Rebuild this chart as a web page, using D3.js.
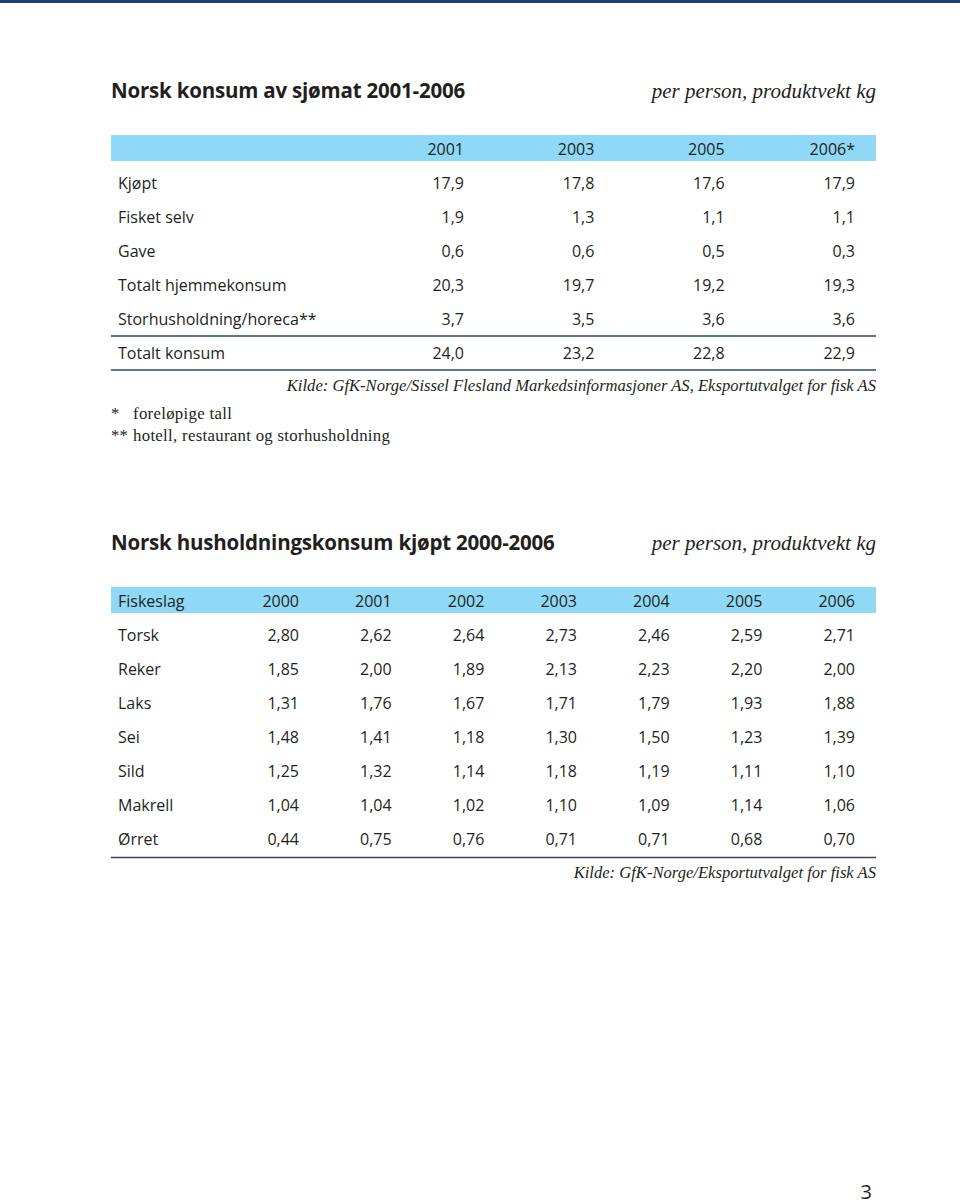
<!DOCTYPE html>
<html><head><meta charset="utf-8">
<script src="https://cdn.jsdelivr.net/npm/d3@7"></script>
<style>
html,body{margin:0;padding:0;background:#fff;}
svg{display:block;}
.sans{font-family:"Open Sans","Noto Sans",sans-serif;fill:#231f20;}
.serif{font-family:"Liberation Serif","DejaVu Serif",serif;fill:#231f20;}
</style></head>
<body>
<script>
// ---- Data: table 1 ----
const t1Title = "Norsk konsum av sjømat 2001-2006";
const t1Unit = "per person, produktvekt kg";
const t1Years = ["2001", "2003", "2005", "2006*"];
const t1Rows = ["Kjøpt", "Fisket selv", "Gave", "Totalt hjemmekonsum", "Storhusholdning/horeca**", "Totalt konsum"];
const t1Kjopt = [17.9, 17.8, 17.6, 17.9];
const t1Fisket = [1.9, 1.3, 1.1, 1.1];
const t1Gave = [0.6, 0.6, 0.5, 0.3];
const t1Hjemme = [20.3, 19.7, 19.2, 19.3];
const t1Stor = [3.7, 3.5, 3.6, 3.6];
const t1Total = [24.0, 23.2, 22.8, 22.9];
const t1Source = "Kilde: GfK-Norge/Sissel Flesland Markedsinformasjoner AS, Eksportutvalget for fisk AS";
const t1NoteMarks = ["*", "**"];
const t1Notes = ["foreløpige tall", "hotell, restaurant og storhusholdning"];

// ---- Data: table 2 ----
const t2Title = "Norsk husholdningskonsum kjøpt 2000-2006";
const t2Unit = "per person, produktvekt kg";
const t2Head = "Fiskeslag";
const t2Years = ["2000", "2001", "2002", "2003", "2004", "2005", "2006"];
const t2Rows = ["Torsk", "Reker", "Laks", "Sei", "Sild", "Makrell", "Ørret"];
const t2Torsk = [2.80, 2.62, 2.64, 2.73, 2.46, 2.59, 2.71];
const t2Reker = [1.85, 2.00, 1.89, 2.13, 2.23, 2.20, 2.00];
const t2Laks = [1.31, 1.76, 1.67, 1.71, 1.79, 1.93, 1.88];
const t2Sei = [1.48, 1.41, 1.18, 1.30, 1.50, 1.23, 1.39];
const t2Sild = [1.25, 1.32, 1.14, 1.18, 1.19, 1.11, 1.10];
const t2Makrell = [1.04, 1.04, 1.02, 1.10, 1.09, 1.14, 1.06];
const t2Orret = [0.44, 0.75, 0.76, 0.71, 0.71, 0.68, 0.70];
const t2Source = "Kilde: GfK-Norge/Eksportutvalget for fisk AS";
const pageNumber = "3";

// ---- Build ----
const W = 960, H = 1204;
const L = 111, R = 876;
const svg = d3.select("body").append("svg").attr("width", W).attr("height", H);
const blue = "#8fd8f6", dark = "#2c4866";

svg.append("rect").attr("x", 0).attr("y", 0).attr("width", W).attr("height", 3).attr("fill", "#1c3f7c");

const fmt1 = v => d3.format(".1f")(v).replace(".", ",");
const fmt2 = v => d3.format(".2f")(v).replace(".", ",");

function title(y, text, unit) {
  svg.append("text").attr("class", "sans").attr("x", L).attr("y", y)
    .attr("font-size", 20.5).attr("font-weight", 700).attr("letter-spacing", -0.2).text(text);
  svg.append("text").attr("class", "serif").attr("x", R).attr("y", y).attr("text-anchor", "end")
    .attr("font-size", 21).attr("font-style", "italic").attr("letter-spacing", 0).text(unit);
}

// Table 1
title(98, t1Title, t1Unit);
const t1Values = [t1Kjopt, t1Fisket, t1Gave, t1Hjemme, t1Stor, t1Total];
const x1 = d3.scalePoint().domain(t1Years).range([464, 855]);
const y1 = d3.scaleBand().domain(["head", ...t1Rows]).range([132, 370]);
svg.append("rect").attr("x", L).attr("y", y1("head") + 3).attr("width", R - L).attr("height", 26).attr("fill", blue);
const g1 = svg.append("g").attr("class", "sans").attr("font-size", 16);
g1.selectAll("text.h").data(t1Years).join("text").attr("class", "h")
  .attr("x", d => x1(d)).attr("y", y1("head") + y1.bandwidth() / 2 + 6).attr("text-anchor", "end").text(d => d);
t1Rows.forEach((r, i) => {
  const cy = y1(r) + y1.bandwidth() / 2 + 6;
  g1.append("text").attr("x", 118).attr("y", cy).text(r);
  g1.selectAll(null).data(t1Values[i]).join("text")
    .attr("x", (d, j) => x1(t1Years[j])).attr("y", cy).attr("text-anchor", "end").text(d => fmt1(d));
});
[y1("Totalt konsum"), y1("Totalt konsum") + y1.bandwidth()].forEach(yy => {
  svg.append("line").attr("x1", L).attr("x2", R).attr("y1", yy).attr("y2", yy)
    .attr("stroke", dark).attr("stroke-width", 1.6);
});
svg.append("text").attr("class", "serif").attr("x", R).attr("y", 391).attr("text-anchor", "end")
  .attr("font-size", 16.6).attr("font-style", "italic").text(t1Source);
const notes = svg.append("g").attr("class", "serif").attr("font-size", 16.8);
notes.selectAll("text.m").data(t1NoteMarks).join("text").attr("class", "m")
  .attr("x", L).attr("y", (d, i) => 419 + i * 22).text(d => d);
notes.selectAll("text.n").data(t1Notes).join("text").attr("class", "n")
  .attr("x", 133).attr("y", (d, i) => 419 + i * 22).attr("letter-spacing", 0.3).text(d => d);

// Table 2
title(550, t2Title, t2Unit);
const t2Values = [t2Torsk, t2Reker, t2Laks, t2Sei, t2Sild, t2Makrell, t2Orret];
const x2 = d3.scalePoint().domain(t2Years).range([299, 855]);
const y2 = d3.scaleBand().domain(["head", ...t2Rows]).range([584, 856]);
svg.append("rect").attr("x", L).attr("y", y2("head") + 3).attr("width", R - L).attr("height", 26).attr("fill", blue);
const g2 = svg.append("g").attr("class", "sans").attr("font-size", 16);
const hy2 = y2("head") + y2.bandwidth() / 2 + 6;
g2.append("text").attr("x", 118).attr("y", hy2).text(t2Head);
g2.selectAll("text.h").data(t2Years).join("text").attr("class", "h")
  .attr("x", d => x2(d)).attr("y", hy2).attr("text-anchor", "end").text(d => d);
t2Rows.forEach((r, i) => {
  const cy = y2(r) + y2.bandwidth() / 2 + 6;
  g2.append("text").attr("x", 118).attr("y", cy).text(r);
  g2.selectAll(null).data(t2Values[i]).join("text")
    .attr("x", (d, j) => x2(t2Years[j])).attr("y", cy).attr("text-anchor", "end").text(d => fmt2(d));
});
svg.append("line").attr("x1", L).attr("x2", R).attr("y1", 857.5).attr("y2", 857.5)
  .attr("stroke", dark).attr("stroke-width", 1.6);
svg.append("text").attr("class", "serif").attr("x", R).attr("y", 878).attr("text-anchor", "end")
  .attr("font-size", 16.6).attr("font-style", "italic").text(t2Source);

svg.append("text").attr("class", "sans").attr("x", 872).attr("y", 1199).attr("text-anchor", "end")
  .attr("font-size", 20).text(pageNumber);
</script>
</body></html>
